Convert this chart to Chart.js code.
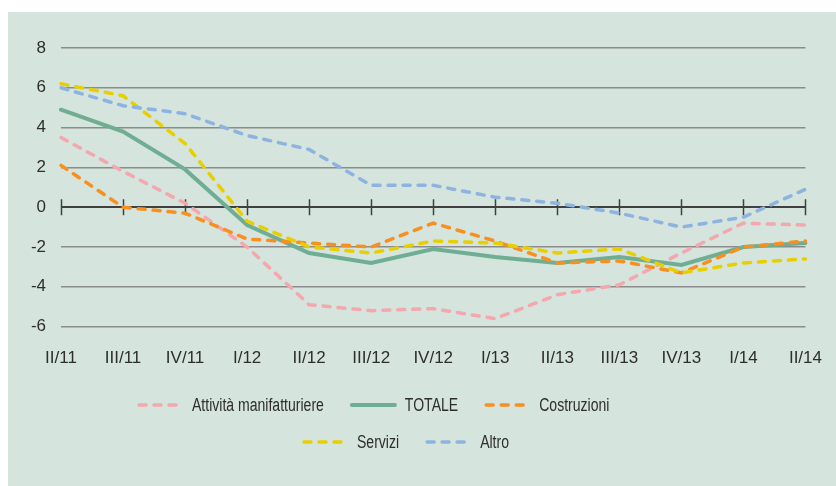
<!DOCTYPE html>
<html><head><meta charset="utf-8">
<script src="https://cdn.jsdelivr.net/npm/chart.js@4/dist/chart.umd.min.js"></script>
<style>
html,body{margin:0;padding:0;background:#fff;}
#wrap{position:absolute;left:8px;top:12px;width:828px;height:474px;background:#d5e4dc;}
canvas{display:block;}
</style></head><body>
<div id="wrap"><canvas id="c" width="828" height="474"></canvas></div>
<script>
const categories = ['II/11','III/11','IV/11','I/12','II/12','III/12','IV/12','I/13','II/13','III/13','IV/13','I/14','II/14'];
const manifatturiere = [3.5, 1.8, 0.2, -2.0, -4.9, -5.2, -5.1, -5.6, -4.4, -3.9, -2.3, -0.8, -0.9];
const totale = [4.9, 3.8, 1.9, -0.9, -2.3, -2.8, -2.1, -2.5, -2.8, -2.5, -2.9, -2.0, -1.8];
const costruzioni = [2.1, 0.0, -0.3, -1.6, -1.8, -2.0, -0.8, -1.7, -2.8, -2.7, -3.3, -2.0, -1.7];
const servizi = [6.2, 5.6, 3.2, -0.7, -2.0, -2.3, -1.7, -1.8, -2.3, -2.1, -3.3, -2.8, -2.6];
const altro = [6.0, 5.1, 4.7, 3.6, 2.9, 1.1, 1.1, 0.5, 0.2, -0.3, -1.0, -0.5, 0.9];
const yTicks = [-6, -4, -2, 0, 2, 4, 6, 8];
const seriesNames = ['Attività manifatturiere', 'TOTALE', 'Costruzioni', 'Servizi', 'Altro'];

const FONT = '"Liberation Sans", Arial, sans-serif';
const TXT = '#2e2e2e';

function dashed(label, data, color, order) {
  return { label, data, borderColor: color, backgroundColor: color, borderWidth: 3.5,
    borderDash: [7, 8], borderCapStyle: 'round', pointRadius: 0, tension: 0, order, fill: false };
}

const zeroTicks = {
  id: 'zeroTicks',
  beforeDatasetsDraw(chart) {
    const ctx = chart.ctx, xs = chart.scales.x, ys = chart.scales.y;
    const y0 = ys.getPixelForValue(0);
    ctx.save();
    ctx.strokeStyle = '#404040';
    ctx.lineWidth = 1.5;
    ctx.beginPath();
    categories.forEach((c, i) => {
      const px = Math.round(xs.getPixelForTick(i)) + 0.5;
      ctx.moveTo(px, y0 - 8); ctx.lineTo(px, y0 + 8);
    });
    ctx.stroke();
    ctx.restore();
  }
};

const customLegend = {
  id: 'customLegend',
  afterDraw(chart) {
    const ctx = chart.ctx;
    const sx = 0.78;
    const rows = [{ y: 393, x: 129, items: [0, 1, 2] }, { y: 430, x: 294, items: [3, 4] }];
    ctx.save();
    ctx.font = '18px ' + FONT;
    ctx.textBaseline = 'middle';
    rows.forEach(r => {
      let x = r.x;
      r.items.forEach(i => {
        const ds = chart.data.datasets[i];
        ctx.beginPath();
        ctx.setLineDash(ds.borderDash || []);
        ctx.lineCap = ds.borderCapStyle || 'butt';
        ctx.lineWidth = ds.borderWidth;
        ctx.strokeStyle = ds.borderColor;
        ctx.moveTo(x + 2, r.y); ctx.lineTo(x + 45, r.y);
        ctx.stroke();
        ctx.setLineDash([]);
        ctx.fillStyle = TXT;
        const tx = x + 55;
        ctx.save();
        ctx.translate(tx, r.y);
        ctx.scale(sx, 1);
        ctx.fillText(ds.label, 0, 1);
        ctx.restore();
        x = tx + ctx.measureText(ds.label).width * sx + 26;
      });
    });
    ctx.restore();
  }
};

new Chart(document.getElementById('c'), {
  type: 'line',
  data: {
    labels: categories,
    datasets: [
      dashed(seriesNames[0], manifatturiere, '#f5a7ae', 4),
      { label: seriesNames[1], data: totale, borderColor: '#6fae93', backgroundColor: '#6fae93', borderWidth: 4,
        borderCapStyle: 'round', pointRadius: 0, tension: 0, order: 3, fill: false },
      dashed(seriesNames[2], costruzioni, '#f7901e', 2),
      dashed(seriesNames[3], servizi, '#e8cf00', 1),
      dashed(seriesNames[4], altro, '#8db4e0', 0)
    ]
  },
  options: {
    responsive: false,
    animation: false,
    layout: { padding: { top: 36, right: 22, bottom: 103, left: 0 } },
    plugins: { legend: { display: false }, tooltip: { enabled: false } },
    scales: {
      x: {
        type: 'category', offset: false,
        grid: { display: false }, border: { display: false },
        ticks: { padding: 14, color: TXT, font: { family: FONT, size: 17 }, maxRotation: 0, autoSkip: false }
      },
      y: {
        min: -6, max: 8,
        afterBuildTicks: s => { s.ticks = yTicks.map(v => ({ value: v })); },
        afterFit: s => { s.width = 53; },
        border: { display: false },
        grid: {
          drawTicks: false,
          color: c => (c.tick && c.tick.value === 0) ? '#404040' : '#8c8c8c',
          lineWidth: c => (c.tick && c.tick.value === 0) ? 2 : 1.5
        },
        ticks: { padding: 15, color: TXT, font: { family: FONT, size: 17 } }
      }
    }
  },
  plugins: [zeroTicks, customLegend]
});
</script>
</body></html>
